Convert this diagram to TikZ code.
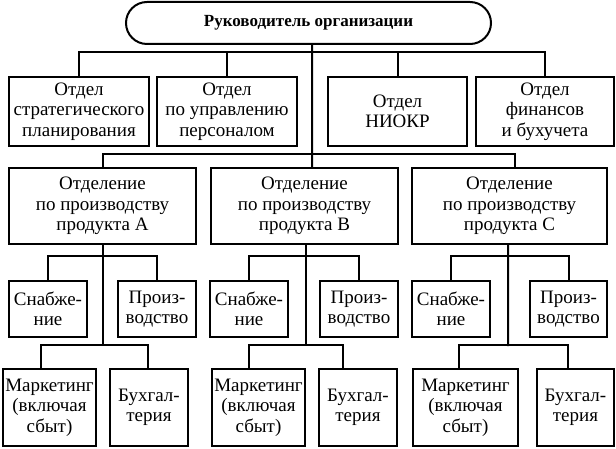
\documentclass[tikz,border=0pt]{standalone}
\usepackage{fontspec}
\setmainfont{Liberation Serif}
\begin{document}
\begin{tikzpicture}[x=1bp,y=-1bp,
  ln/.style={line width=2bp},
  box/.style={draw,line width=2bp,align=center,inner sep=0pt,
    font=\fontsize{19bp}{20.5bp}\selectfont},
  r1/.style={box,minimum height=69bp},
  r2/.style={box,minimum height=76bp},
  r3/.style={box,minimum height=56bp},
  r4/.style={box,minimum height=77bp}]
\useasboundingbox (0,0) rectangle (616,449);
\node[draw,line width=2bp,rounded corners=21bp,minimum width=365bp,minimum height=42bp,inner sep=0pt,
  font=\fontsize{17bp}{19bp}\selectfont\bfseries] (top) at (308.5,23) {Руководитель организации};
\node[r1,minimum width=140bp] (b1) at (79,111.5) {Отдел\\стратегического\\планирования};
\node[r1,minimum width=140bp] (b2) at (227,111.5) {Отдел\\по управлению\\персоналом};
\node[r1,minimum width=139bp] (b3) at (397.5,111.5) {Отдел\\НИОКР};
\node[r1,minimum width=138bp] (b4) at (545,111.5) {Отдел\\финансов\\и бухучета};
\node[r2,minimum width=187bp] (A) at (102.5,206) {Отделение\\по производству\\продукта A};
\node[r2,minimum width=187bp] (B) at (304.5,206) {Отделение\\по производству\\продукта B};
\node[r2,minimum width=195bp] (C) at (509.5,206) {Отделение\\по производству\\продукта C};
\node[r3,minimum width=78bp] (SA) at (48,309) {Снабже-\\ние};
\node[r3,minimum width=78bp] (PA) at (157,309) {Произ-\\водство};
\node[r3,minimum width=78bp] (SB) at (249,309) {Снабже-\\ние};
\node[r3,minimum width=78bp] (PB) at (359,309) {Произ-\\водство};
\node[r3,minimum width=78bp] (SC) at (451,309) {Снабже-\\ние};
\node[r3,minimum width=77bp] (PC) at (568.5,309) {Произ-\\водство};
\node[r4,minimum width=93bp] (MA) at (49.5,407.5) {Маркетинг\\(включая\\сбыт)};
\node[r4,minimum width=78bp] (BA) at (149,407.5) {Бухгал-\\терия};
\node[r4,minimum width=93bp] (MB) at (258.5,407.5) {Маркетинг\\(включая\\сбыт)};
\node[r4,minimum width=78bp] (BB) at (358,407.5) {Бухгал-\\терия};
\node[r4,minimum width=105bp] (MC) at (465.5,407.5) {Маркетинг\\(включая\\сбыт)};
\node[r4,minimum width=77bp] (BC) at (575.5,407.5) {Бухгал-\\терия};
% main trunk
\draw[ln] ([xshift=3.5bp]top.south) -- ([xshift=7.5bp]B.north);
% row 1 bus
\coordinate (h1) at (312,53);
\draw[ln] (b1.north) -- ++(0,-24) -| (b4.north);
\draw[ln] (b2.north) -- (b2.north |- h1);
\draw[ln] (b3.north) -- (b3.north |- h1);
% row 2 bus
\draw[ln] (A.north) -- ++(0,-13) -| ([xshift=5.5bp]C.north);
% division A
\coordinate (tA) at (102.5,346);
\draw[ln] (A.south) -- (tA);
\draw[ln] (SA.north) -- ++(0,-24) -| (PA.north);
\draw[ln] ([xshift=-8.5bp]MA.north) -- ++(0,-23) -| ([xshift=-1bp]BA.north);
% division B
\coordinate (tB) at (306,346);
\draw[ln] ([xshift=1.5bp]B.south) -- (tB);
\draw[ln] (SB.north) -- ++(0,-24) -| (PB.north);
\draw[ln] ([xshift=-9.5bp]MB.north) -- ++(0,-23) -| ([xshift=-15bp]BB.north);
% division C
\coordinate (tC) at (508,346);
\draw[ln] ([xshift=-1.5bp]C.south) -- (tC);
\draw[ln] (SC.north) -- ++(0,-24) -| (PC.north);
\draw[ln] ([xshift=-6.5bp]MC.north) -- ++(0,-23) -| ([xshift=-7.5bp]BC.north);
\end{tikzpicture}
\end{document}
